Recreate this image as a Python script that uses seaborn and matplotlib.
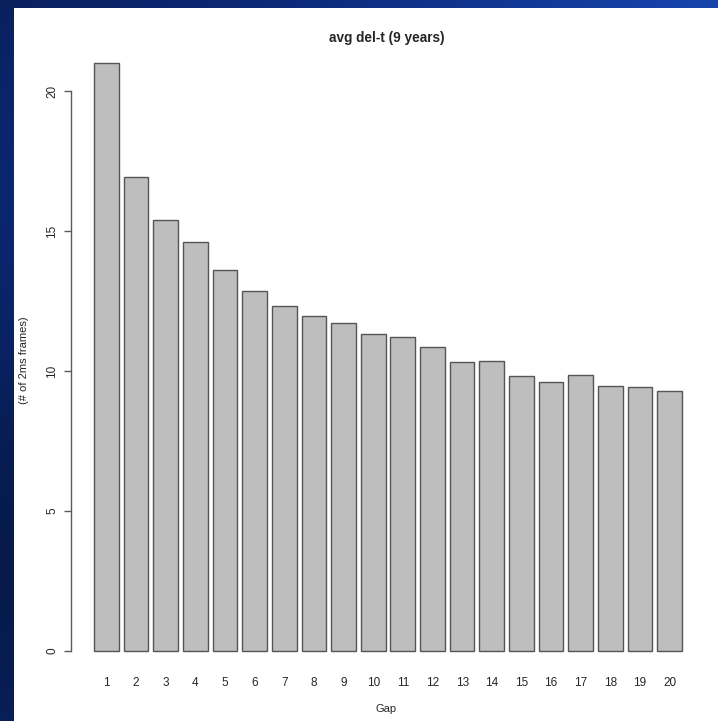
import numpy as np
import pandas as pd
import matplotlib
matplotlib.use("Agg")
import matplotlib.pyplot as plt
from matplotlib.patches import Rectangle
from matplotlib.colors import LinearSegmentedColormap
import seaborn as sns

# Average del-t per gap, in number of 2ms frames
gaps = [str(g) for g in range(1, 21)]
avg_frames = [21.0, 16.94, 15.4, 14.62, 13.6, 12.85, 12.33, 11.96, 11.7, 11.31,
              11.2, 10.85, 10.33, 10.35, 9.82, 9.6, 9.86, 9.46, 9.44, 9.3]
y_ticks = [0, 5, 10, 15, 20]

df = pd.DataFrame({"Gap": gaps, "frames": avg_frames})

sns.set_style("white")
plt.rcParams["font.family"] = ["Liberation Sans", "DejaVu Sans"]

W, H = 718, 721
fig = plt.figure(figsize=(W / 100, H / 100), dpi=100)

# desktop-blue backdrop around the white plot panel
bg = fig.add_axes([0, 0, 1, 1], zorder=-10)
xx = np.linspace(0, 1, 200)[None, :]
yy = np.linspace(0, 1, 200)[:, None]
shade = np.clip(0.25 + 0.6 * xx + 0.15 * np.sin(yy * 6), 0, 1)
cmap = LinearSegmentedColormap.from_list("desk", ["#061640", "#0c2a7a", "#1b4fc2"])
bg.imshow(shade, cmap=cmap, aspect="auto", extent=[0, 1, 0, 1], vmin=0, vmax=1)
bg.set_axis_off()
fig.patches.append(Rectangle((14 / W, 0), 1 - 14 / W, (H - 8) / H,
                             transform=fig.transFigure, facecolor="white",
                             edgecolor="none", zorder=-5))

left, right, top, bottom = 70.5, 705.5, 39.5, 674.5
ax = fig.add_axes([left / W, 1 - bottom / H, (right - left) / W, (bottom - top) / H])
ax.patch.set_alpha(0)

sns.barplot(data=df, x="Gap", y="frames", order=gaps, color="#bebebe",
            saturation=1, width=1 / 1.2, edgecolor="#555555", linewidth=1.0, ax=ax)

ax.set_xlim(-1.21, 20.21)
ax.set_ylim(-0.84, 21.84)

for s in ["top", "right", "bottom"]:
    ax.spines[s].set_visible(False)
ax.spines["left"].set_bounds(0, 20)
ax.spines["left"].set_color("#5a5a5a")
ax.spines["left"].set_linewidth(1.0)

ax.set_yticks(y_ticks)
ax.set_yticklabels([str(t) for t in y_ticks], rotation=90, va="center", fontsize=8.5)
ax.tick_params(axis="y", left=True, length=5, width=1.0, color="#5a5a5a", pad=4)
ax.tick_params(axis="x", bottom=False, length=0, pad=1.5, labelsize=8.5)

ax.set_xlabel("")
ax.set_ylabel("")
fig.text(386 / W, 1 - 709 / H, "Gap", ha="center", va="center", fontsize=8)
fig.text(24 / W, 1 - 360 / H, "(# of 2ms frames)", ha="center", va="center",
         rotation=90, fontsize=8)
fig.text(387 / W, 1 - 38 / H, "avg del-t (9 years)", ha="center", va="center",
         fontsize=9.8, fontweight="bold")

fig.savefig("out.png", dpi=100)
